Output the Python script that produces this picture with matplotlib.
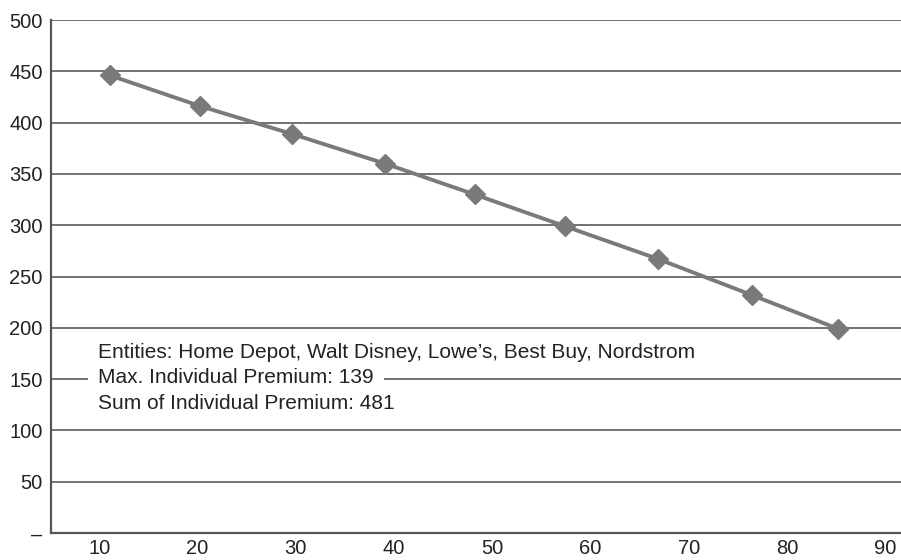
import matplotlib.pyplot as plt

plt.rcParams['font.family'] = ['Liberation Sans', 'DejaVu Sans']

# Data
x_vals = [11.1, 20.3, 29.6, 39.1, 48.2, 57.4, 66.9, 76.4, 85.2]
y_vals = [446, 416, 389, 360, 330, 299, 267, 232, 199]

x_ticks = [10, 20, 30, 40, 50, 60, 70, 80, 90]
y_ticks = [0, 50, 100, 150, 200, 250, 300, 350, 400, 450, 500]
y_tick_labels = ['–', '50', '100', '150', '200', '250', '300', '350', '400', '450', '500']

notes = ['Max. Individual Premium: 139',
         'Entities: Home Depot, Walt Disney, Lowe’s, Best Buy, Nordstrom',
         'Sum of Individual Premium: 481']
note_y = [146, 171, 121]

fig = plt.figure(figsize=(9.01, 5.6), dpi=100)
ax = fig.add_axes([51/901, 1-533/560, 1-51/901, (533-20)/560])

ax.plot(x_vals, y_vals, color='#7a7a7a', linewidth=2.8, marker='D',
        markersize=10, markeredgewidth=1, markerfacecolor='#7a7a7a',
        markeredgecolor='#7a7a7a', zorder=3)

ax.set_xlim(5.1, 91.6)
ax.set_ylim(0, 500)
ax.set_xticks(x_ticks)
ax.set_yticks(y_ticks)
ax.set_yticklabels(y_tick_labels)
ax.tick_params(axis='both', length=0, labelsize=14.5, colors='#222222')
ax.tick_params(axis='y', pad=6)
ax.tick_params(axis='x', pad=4)

ax.grid(axis='y', color='#5a5a5a', linewidth=1.2)
ax.set_axisbelow(True)
for s in ['top', 'right']:
    ax.spines[s].set_visible(False)
for s in ['left', 'bottom']:
    ax.spines[s].set_color('#555555')
    ax.spines[s].set_linewidth(1.6)

# middle line sits on the 150 gridline, so it gets a white box
for i, (txt, yy) in enumerate(zip(notes, note_y)):
    box = dict(facecolor='white', edgecolor='none', pad=7) if i == 0 else None
    ax.text(9.9, yy, txt, fontsize=15, color='#222222', va='baseline',
            ha='left', bbox=box, zorder=4 + i)

fig.savefig('out.png', dpi=100)
